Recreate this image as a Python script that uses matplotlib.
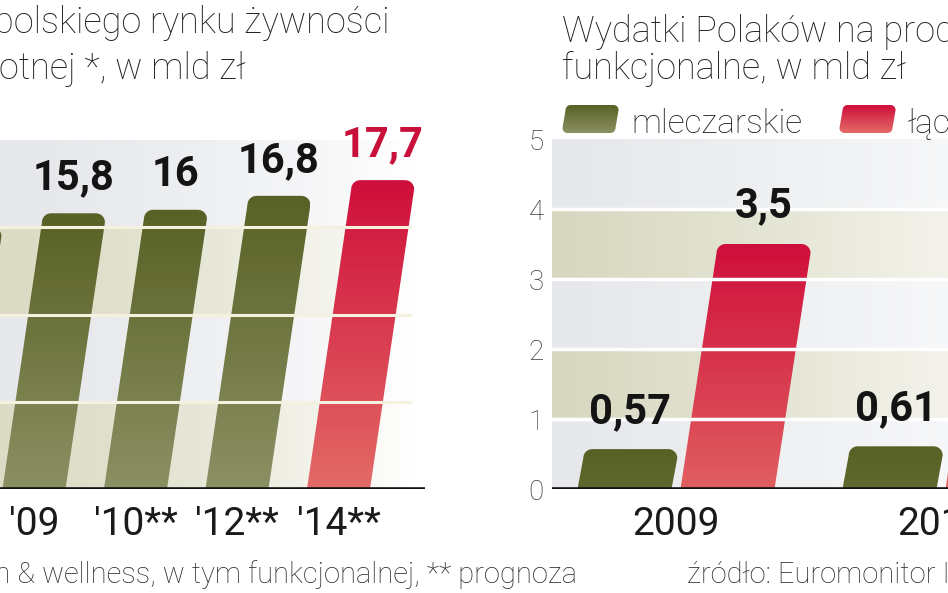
import numpy as np
import matplotlib.pyplot as plt
from matplotlib.patches import Polygon
from matplotlib.colors import to_rgb

plt.rcParams['font.family'] = ['Roboto', 'DejaVu Sans']

W, H = 948, 593

# wartosc rynku zywnosci prozdrowotnej, mld zl
left_years = ["'08", "'09", "'10**", "'12**", "'14**"]
left_values = [15.0, 15.8, 16.0, 16.8, 17.7]
left_forecast = [False, False, False, False, True]

# wydatki na produkty funkcjonalne, mld zl
right_years = ['2009', '2010']
dairy = [0.57, 0.61]
total = [3.5, 3.9]

OLIVE = ('#586125', '#8b9063')
RED = ('#cf0f3b', '#e36a66')
BEIGE = '#dcdcc6'
GREY = '#e6e8eb'


def fmt(v):
    return f'{v:g}'.replace('.', ',')


def shape(w, h, slant, r_top, r_bot=0.0, n=10):
    # outline in px, origin at bottom centre, y up
    xl = lambda y: -w / 2 + slant * y
    xr = lambda y: w / 2 + slant * y

    def arc(cx, cy, r, a0, a1):
        a = np.linspace(a0, a1, n)
        return list(zip(cx + r * np.cos(a), cy + r * np.sin(a)))

    pts = []
    pts += arc(xl(0) + r_bot, r_bot, r_bot, np.pi, 1.5 * np.pi)
    pts += arc(xr(0) - r_bot, r_bot, r_bot, 1.5 * np.pi, 2 * np.pi)
    pts += arc(xr(h) - r_top, h - r_top, r_top, 0, 0.5 * np.pi)
    pts += arc(xl(h) + r_top, h - r_top, r_top, 0.5 * np.pi, np.pi)
    return np.array(pts)


def grad_fill(ax, verts, top, bottom, zorder=2, flip=False):
    poly = Polygon(verts, closed=True, facecolor='none', edgecolor='none',
                   transform=ax.transData)
    ax.add_patch(poly)
    c = np.linspace(0, 1, 80)[:, None]
    img = (1 - c) * np.array(to_rgb(top)) + c * np.array(to_rgb(bottom))
    x0, x1 = verts[:, 0].min(), verts[:, 0].max()
    y0, y1 = verts[:, 1].min(), verts[:, 1].max()
    ext = [x0, x1, y1, y0] if flip else [x0, x1, y0, y1]
    im = ax.imshow(img[:, None, :], extent=ext, origin='upper', aspect='auto',
                   zorder=zorder, interpolation='bilinear')
    im.set_clip_path(poly)


def bar(ax, xc, value, w_px, sx, sy, colors, slant=0.143, r=9):
    h_px = value * sy
    pts = shape(w_px, h_px, slant, min(r, h_px / 2))
    verts = np.column_stack([xc + pts[:, 0] / sx, pts[:, 1] / sy])
    k = min(1.0, h_px / 280)
    bottom = (1 - k) * np.array(to_rgb(colors[0])) + k * np.array(to_rgb(colors[1]))
    grad_fill(ax, verts, colors[0], bottom)
    top_centre = xc + slant * h_px / sx
    return top_centre


def fade(ax, px0, px1, alpha_fn):
    px = np.linspace(px0, px1, 400)
    rgba = np.ones((1, 400, 4))
    rgba[..., 3] = alpha_fn(px)
    ax.imshow(rgba, extent=[0, 1, 0, 1], transform=ax.transAxes,
              aspect='auto', zorder=1)


def rect(x0, yt, x1, yb):
    return [x0 / W, (H - yb) / H, (x1 - x0) / W, (yb - yt) / H]


fig = plt.figure(figsize=(W / 100, H / 100), dpi=100)

# ---------- lewy wykres ----------
L_PX = (-120, 140, 425, 489)
L_X0, L_SX = -67.5, 101.5
L_SY = (L_PX[3] - L_PX[1]) / 20
axL = fig.add_axes(rect(*L_PX))

for i, lo in enumerate(range(0, 20, 5)):
    axL.axhspan(lo, lo + 5, color=BEIGE if i % 2 == 0 else GREY, zorder=0, lw=0)
fade(axL, L_PX[0], L_PX[2], lambda p: np.clip(p / 415, 0, 1) ** 1.6)

for i, (v, red) in enumerate(zip(left_values, left_forecast)):
    cols = RED if red else OLIVE
    tc = bar(axL, i, v, 63, L_SX, L_SY, cols)
    axL.annotate(fmt(v), (tc, v), xytext=(0, 17), textcoords='offset points',
                 ha='center', va='baseline', fontsize=30, fontweight='bold',
                 color='#c8103a' if red else '#141414', zorder=6)

for y in (5, 10, 15):
    axL.axhline(y, xmin=0, xmax=(410 - L_PX[0]) / (L_PX[2] - L_PX[0]),
                color='#f4f1de', lw=2.2, zorder=3)
axL.axhline(0, color='#111111', lw=2.6, zorder=4)

axL.set_xlim((L_PX[0] - L_X0) / L_SX, (L_PX[2] - L_X0) / L_SX)
axL.set_ylim(0, 20)
axL.set_xticks(range(len(left_years)), left_years)
axL.set_yticks([])
axL.tick_params(axis='x', length=0, pad=12, labelsize=28, labelcolor='#1a1a1a')
for s in axL.spines.values():
    s.set_visible(False)

# ---------- prawy wykres ----------
R_PX = (552, 139, 1100, 489)
R_X0, R_SX = 676, 265
R_SY = (R_PX[3] - R_PX[1]) / 5
axR = fig.add_axes(rect(*R_PX))

for i, lo in enumerate(range(0, 5)):
    axR.axhspan(lo, lo + 1, color=GREY if i % 2 == 0 else '#d8d8c1', zorder=0, lw=0)
fade(axR, R_PX[0], R_PX[2], lambda p: np.clip(0.68 * ((p - 552) / 396) ** 1.2, 0, 1))

off = 51.5 / R_SX
for i in range(len(right_years)):
    tc = bar(axR, i - off, dairy[i], 94, R_SX, R_SY, OLIVE, slant=0.145)
    axR.annotate(fmt(dairy[i]), (tc, dairy[i]), xytext=(0, 18.5),
                 textcoords='offset points', ha='center', va='baseline',
                 fontsize=30, fontweight='bold', color='#141414', zorder=6)
    tc = bar(axR, i + off, total[i], 94, R_SX, R_SY, RED, slant=0.147)
    axR.annotate(fmt(total[i]), (tc, total[i]), xytext=(0, 19),
                 textcoords='offset points', ha='center', va='baseline',
                 fontsize=30, fontweight='bold', color='#141414', zorder=6)

for y in (1, 2, 3, 4):
    axR.axhline(y, color='white', lw=2.5, zorder=3)
axR.axhline(0, color='#111111', lw=2.6, zorder=4)

axR.set_xlim((R_PX[0] - R_X0) / R_SX, (R_PX[2] - R_X0) / R_SX)
axR.set_ylim(0, 5)
axR.set_xticks(range(len(right_years)), right_years)
axR.set_yticks(range(6))
axR.tick_params(axis='x', length=0, pad=12, labelsize=28, labelcolor='#1a1a1a')
axR.tick_params(axis='y', length=0, pad=6, labelsize=20, labelcolor='#3a3a3a')
for t in axR.get_yticklabels():
    t.set_fontweight('light')
for s in axR.spines.values():
    s.set_visible(False)

# ---------- teksty i legenda ----------
ov = fig.add_axes([0, 0, 1, 1], zorder=10)
ov.set_xlim(0, W)
ov.set_ylim(H, 0)
ov.axis('off')

tkw = dict(va='baseline', fontsize=26, fontweight='light', color='#222222')
ov.text(390, 33, 'Wartość polskiego rynku żywności', ha='right', **tkw)
ov.text(246, 79, 'prozdrowotnej *, w mld zł', ha='right', **tkw)
ov.text(562, 42, 'Wydatki Polaków na produkty', ha='left', **tkw)
ov.text(562, 79, 'funkcjonalne, w mld zł', ha='left', **tkw)

for x0, cols, label in ((589, OLIVE, 'mleczarskie'), (866, RED, 'łącznie')):
    pts = shape(53, 28, 0.11, 5, 5)
    verts = np.column_stack([x0 + pts[:, 0], 133 - pts[:, 1]])
    grad_fill(ov, verts, cols[0], cols[1], zorder=2, flip=True)
    ov.text(x0 + 42, 133, label, ha='left', va='baseline', fontsize=24,
            fontweight='light', color='#222222')

fkw = dict(va='baseline', fontsize=21, fontweight='light', color='#2a2a2a')
ov.text(577, 583, '* health & wellness, w tym funkcjonalnej, ** prognoza',
        ha='right', **fkw)
ov.text(687, 583, 'źródło: Euromonitor International', ha='left', **fkw)
ov.set_xlim(0, W)
ov.set_ylim(H, 0)

fig.savefig('out.png', dpi=100)
